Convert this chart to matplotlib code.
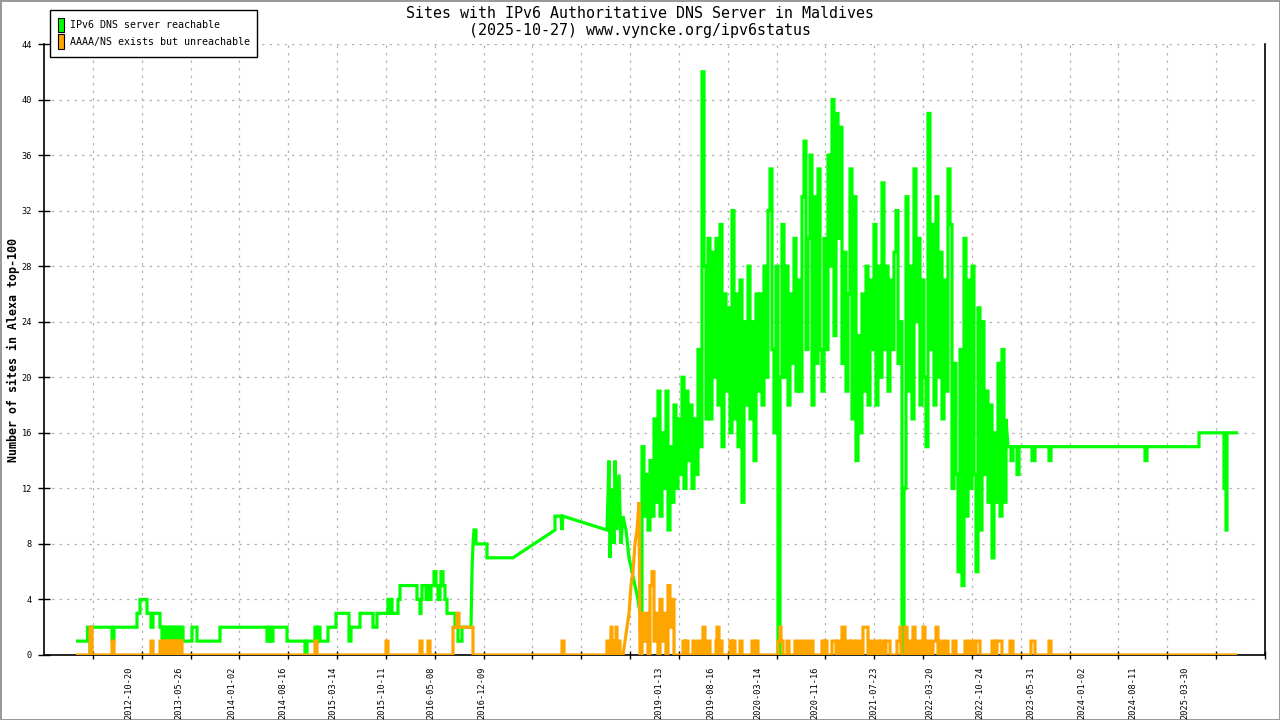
import matplotlib
matplotlib.use("Agg")
import matplotlib.pyplot as plt
from matplotlib.patches import Patch
import numpy as np

# x runs along the chart from the left axis (44) to the right axis (1265)
X_MIN, X_MAX = 44, 1265

# x tick labels (dates) and where they sit
tick_label_pos = [129, 179, 232, 283, 333, 382, 431, 482, 659, 711, 758,
                  815, 874, 930, 980, 1031, 1082, 1133, 1185]
tick_labels = ['2012-10-20', '2013-05-26', '2014-01-02', '2014-08-16',
               '2015-03-14', '2015-10-11', '2016-05-08', '2016-12-09',
               '2019-01-13', '2019-08-16', '2020-03-14', '2020-11-16',
               '2021-07-23', '2022-03-20', '2022-10-24', '2023-05-31',
               '2024-01-02', '2024-08-11', '2025-03-30']

# ---- green: IPv6 DNS server reachable ----
# early part, change points of a step series
green_early_x = [76, 87.5, 90, 91.5, 112, 114, 137, 140, 147, 151,
                 153, 160, 162, 163, 165, 166, 168, 169, 171, 172,
                 174, 175, 177, 178, 180, 181, 183, 192, 197, 220,
                 267, 269, 271, 273, 287, 305, 307, 315, 317, 318,
                 320, 328, 336, 349, 351, 360, 373, 377, 388, 390,
                 391, 392, 398, 400, 417, 420, 421, 422, 426, 427,
                 430, 431, 434, 436, 438, 440, 441, 443, 445, 447,
                 455, 458, 462, 471]
green_early_v = [1, 2, 0, 2, 1, 2, 3, 4, 3, 2,
                 3, 2, 1, 2, 1, 2, 1, 2, 1, 2,
                 1, 2, 1, 2, 1, 2, 1, 2, 1, 2,
                 1, 2, 1, 2, 1, 0, 1, 2, 1, 2,
                 1, 2, 3, 1, 2, 3, 2, 3, 4, 3,
                 4, 3, 4, 5, 4, 3, 4, 5, 4, 5,
                 4, 5, 6, 5, 4, 5, 6, 5, 4, 3,
                 2, 1, 2, 2]
# sparse middle part (few samples, straight segments)
green_mid_x = [472, 473, 474, 476, 476, 487, 487, 513, 555, 555, 561, 562,
               563, 607, 609, 610, 612, 614, 615, 617, 619, 621, 623, 626,
               629, 632, 635, 638]
green_mid_v = [6, 8, 9, 9, 8, 8, 7, 7, 9, 10, 10, 9,
               10, 9, 14, 7, 12, 8, 14, 9, 13, 8, 10, 9,
               7, 6, 5, 4]
# dense part, one sample every 2 units from 640
green_dense_start, green_dense_step = 640, 2
green_dense_v = [3, 15, 10, 13, 9, 14, 10, 17, 11, 19,
                 10, 16, 12, 19, 9, 15, 11, 18, 12, 17,
                 13, 20, 12, 19, 14, 18, 12, 17, 13, 22,
                 15, 42, 28, 17, 30, 17, 29, 20, 30, 18,
                 31, 15, 26, 19, 25, 16, 32, 17, 26, 15,
                 27, 11, 24, 18, 28, 17, 24, 14, 26, 19,
                 26, 18, 28, 20, 32, 35, 22, 16, 28, 0,
                 20, 31, 20, 28, 18, 26, 21, 30, 19, 27,
                 19, 33, 37, 22, 30, 36, 18, 33, 21, 35,
                 22, 19, 30, 22, 36, 28, 40, 23, 39, 30,
                 38, 21, 29, 19, 26, 35, 17, 33, 14, 23,
                 16, 26, 19, 28, 18, 27, 22, 31, 18, 28,
                 20, 34, 22, 28, 19, 27, 22, 29, 32, 21,
                 24, 0, 12, 33, 19, 28, 17, 35, 24, 30,
                 18, 27, 20, 15, 39, 22, 31, 18, 33, 20,
                 29, 17, 27, 19, 35, 31, 12, 21, 13, 6,
                 22, 5, 30, 10, 27, 12, 28, 13, 6, 25,
                 9, 24, 13, 19, 11, 18, 7, 16, 11, 21,
                 10, 22, 11, 17]
# late part, change points of a step series
green_late_x = [1008, 1011, 1013, 1017, 1019, 1032, 1035, 1049, 1051, 1145,
                1147, 1199, 1224, 1226, 1227, 1238]
green_late_v = [15, 14, 15, 13, 15, 14, 15, 14, 15, 14,
                15, 16, 12, 9, 16, 16]

# ---- orange: AAAA/NS exists but unreachable ----
# early part: zero baseline with spikes (start, width, height)
orange_early_span = (76, 623)
orange_early_sx = [90, 112, 151, 160, 163, 166, 168, 171, 174, 176, 179, 181,
                   315, 386, 420, 428, 453, 457, 459, 562, 607, 611, 614, 616, 619]
orange_early_sw = [2, 2, 2, 1, 1, 1, 1, 1, 1, 1, 1, 1,
                   2, 2, 2, 2, 4, 2, 14, 2, 2, 1, 2, 1, 1]
orange_early_sh = [2, 1, 1, 1, 1, 1, 1, 1, 1, 1, 1, 1,
                   1, 1, 1, 1, 2, 3, 2, 1, 1, 2, 1, 2, 1]
# ramp
orange_ramp_x = [625, 627, 629, 631, 633, 635, 637, 639]
orange_ramp_v = [1, 2, 3, 5, 6, 8, 9, 11]
# dense part, one sample every 2 units from 640
orange_dense_start, orange_dense_step = 640, 2
orange_dense_v = [0, 3, 1, 3, 0, 5, 6, 1, 3, 0, 4, 1, 3, 0, 5, 2, 4, 0]
# late part: zero baseline with spikes
orange_late_span = (674, 1237)
orange_late_sx = [683, 686, 693, 698, 703, 708, 716, 717, 720, 730, 733, 740,
                  752, 756, 778, 780, 781, 787, 795, 800, 805, 810, 822, 825,
                  832, 838, 842, 847, 852, 857, 863, 870, 876, 881, 886, 897,
                  900, 905, 909, 913, 918, 923, 928, 933, 936, 940, 946, 953,
                  965, 970, 976, 992, 997, 1010, 1031, 1049]
orange_late_sw = [2, 2, 2, 2, 2, 2, 1, 2, 2, 2, 2, 2,
                  2, 2, 2, 1, 2, 2, 2, 2, 2, 3, 2, 2,
                  4, 2, 3, 3, 3, 3, 5, 3, 3, 3, 4, 3,
                  1, 2, 2, 2, 2, 2, 2, 3, 2, 3, 2, 3,
                  2, 3, 4, 3, 5, 3, 4, 2]
orange_late_sh = [1, 1, 1, 1, 2, 1, 1, 2, 1, 1, 1, 1,
                  1, 1, 1, 2, 1, 1, 1, 1, 1, 1, 1, 1,
                  1, 1, 2, 1, 1, 1, 2, 1, 1, 1, 1, 1,
                  2, 2, 1, 2, 1, 2, 1, 1, 2, 1, 1, 1,
                  1, 1, 1, 1, 1, 1, 1, 1]

GREEN = '#00ff00'
ORANGE = '#ffa500'


def step_points(xs, vs):
    px, py = [xs[0]], [vs[0]]
    for i in range(1, len(xs)):
        px += [xs[i], xs[i]]
        py += [vs[i - 1], vs[i]]
    return px, py


def spike_points(span, sx, sw, sh):
    px, py = [span[0]], [0]
    for s, w, h in zip(sx, sw, sh):
        if len(px) > 1 and px[-1] == s and py[-1] == 0:
            # spike continues the previous one, do not drop to zero
            px.pop()
            py.pop()
        else:
            px.append(s)
            py.append(0)
        px += [s, s + w, s + w]
        py += [h, h, 0]
    px.append(span[1])
    py.append(0)
    return px, py


def dense_points(start, step, vs):
    # daily samples drawn as short plateaus, like the original
    xs = [start + step * i for i in range(len(vs))]
    return step_points(xs, vs)


# assemble the two series
gx, gy = step_points(green_early_x, green_early_v)
gx += green_mid_x
gy += green_mid_v
dx, dy = dense_points(green_dense_start, green_dense_step, green_dense_v)
gx += dx
gy += dy
lx, ly = step_points(green_late_x, green_late_v)
gx += lx
gy += ly

ox, oy = spike_points(orange_early_span, orange_early_sx, orange_early_sw, orange_early_sh)
ox += orange_ramp_x
oy += orange_ramp_v
dx, dy = dense_points(orange_dense_start, orange_dense_step, orange_dense_v)
ox += dx
oy += dy
lx, ly = spike_points(orange_late_span, orange_late_sx, orange_late_sw, orange_late_sh)
ox += lx
oy += ly

plt.rcParams['font.family'] = ['DejaVu Sans Mono']

fig = plt.figure(figsize=(12.8, 7.2), dpi=100)
fig.patch.set_edgecolor('#9a9a9a')
fig.patch.set_linewidth(2)
ax = fig.add_axes([X_MIN / 1280, 1 - 655 / 720, (X_MAX - X_MIN) / 1280, (655 - 44) / 720])

ax.plot(gx, gy, color=GREEN, lw=2.3, solid_joinstyle='miter', solid_capstyle='butt', zorder=3)
ax.plot(ox, oy, color=ORANGE, lw=2.3, solid_joinstyle='miter', solid_capstyle='butt', zorder=4)

ax.set_xlim(X_MIN, X_MAX)
ax.set_ylim(0, 44)

# regular tick marks + grid, date labels placed separately
reg_ticks = np.linspace(X_MIN, X_MAX, 26)[1:]
ax.set_xticks(reg_ticks, minor=True)
ax.set_xticks(tick_label_pos)
ax.set_xticklabels(tick_labels, rotation=90, fontsize=6.2)
ax.tick_params(axis='x', which='major', length=0, pad=8)
ax.tick_params(axis='x', which='minor', direction='inout', length=6, width=1)
ax.set_yticks(range(0, 45, 4))
ax.tick_params(axis='y', direction='inout', length=9, width=1, labelsize=6.2, pad=4)

grid_style = dict(color='#b4b4b4', lw=0.9, ls=(0, (2, 4)))
ax.grid(False)
for xt in reg_ticks[:-1]:
    ax.axvline(xt, zorder=1, **grid_style)
for yt in range(4, 45, 4):
    ax.axhline(yt, xmax=0.995, zorder=1, **grid_style)

ax.spines['top'].set_visible(False)
for s in ['left', 'bottom', 'right']:
    ax.spines[s].set_linewidth(1.2)
    ax.spines[s].set_color('black')

ax.set_ylabel('Number of sites in Alexa top-100', fontsize=8.4, fontweight='bold')
ax.yaxis.set_label_coords((20 - X_MIN) / (X_MAX - X_MIN), 0.5)

fig.text(0.5, 1 - 13 / 720, 'Sites with IPv6 Authoritative DNS Server in Maldives',
         ha='center', va='center', fontsize=10.8)
fig.text(0.5, 1 - 31 / 720, '(2025-10-27) www.vyncke.org/ipv6status',
         ha='center', va='center', fontsize=10.8)

handles = [Patch(facecolor=GREEN, edgecolor='black', lw=0.8, label='IPv6 DNS server reachable'),
           Patch(facecolor=ORANGE, edgecolor='black', lw=0.8, label='AAAA/NS exists but unreachable')]
leg = fig.legend(handles=handles, loc='upper left', bbox_to_anchor=(50 / 1280, 1 - 10 / 720),
                 borderaxespad=0, fancybox=False, edgecolor='black', framealpha=1,
                 fontsize=7.2, handlelength=0.6, handleheight=1.93, handletextpad=0.6,
                 labelspacing=0.2, borderpad=0.75)
leg.get_frame().set_linewidth(1.0)

fig.savefig('out.png', dpi=100)
